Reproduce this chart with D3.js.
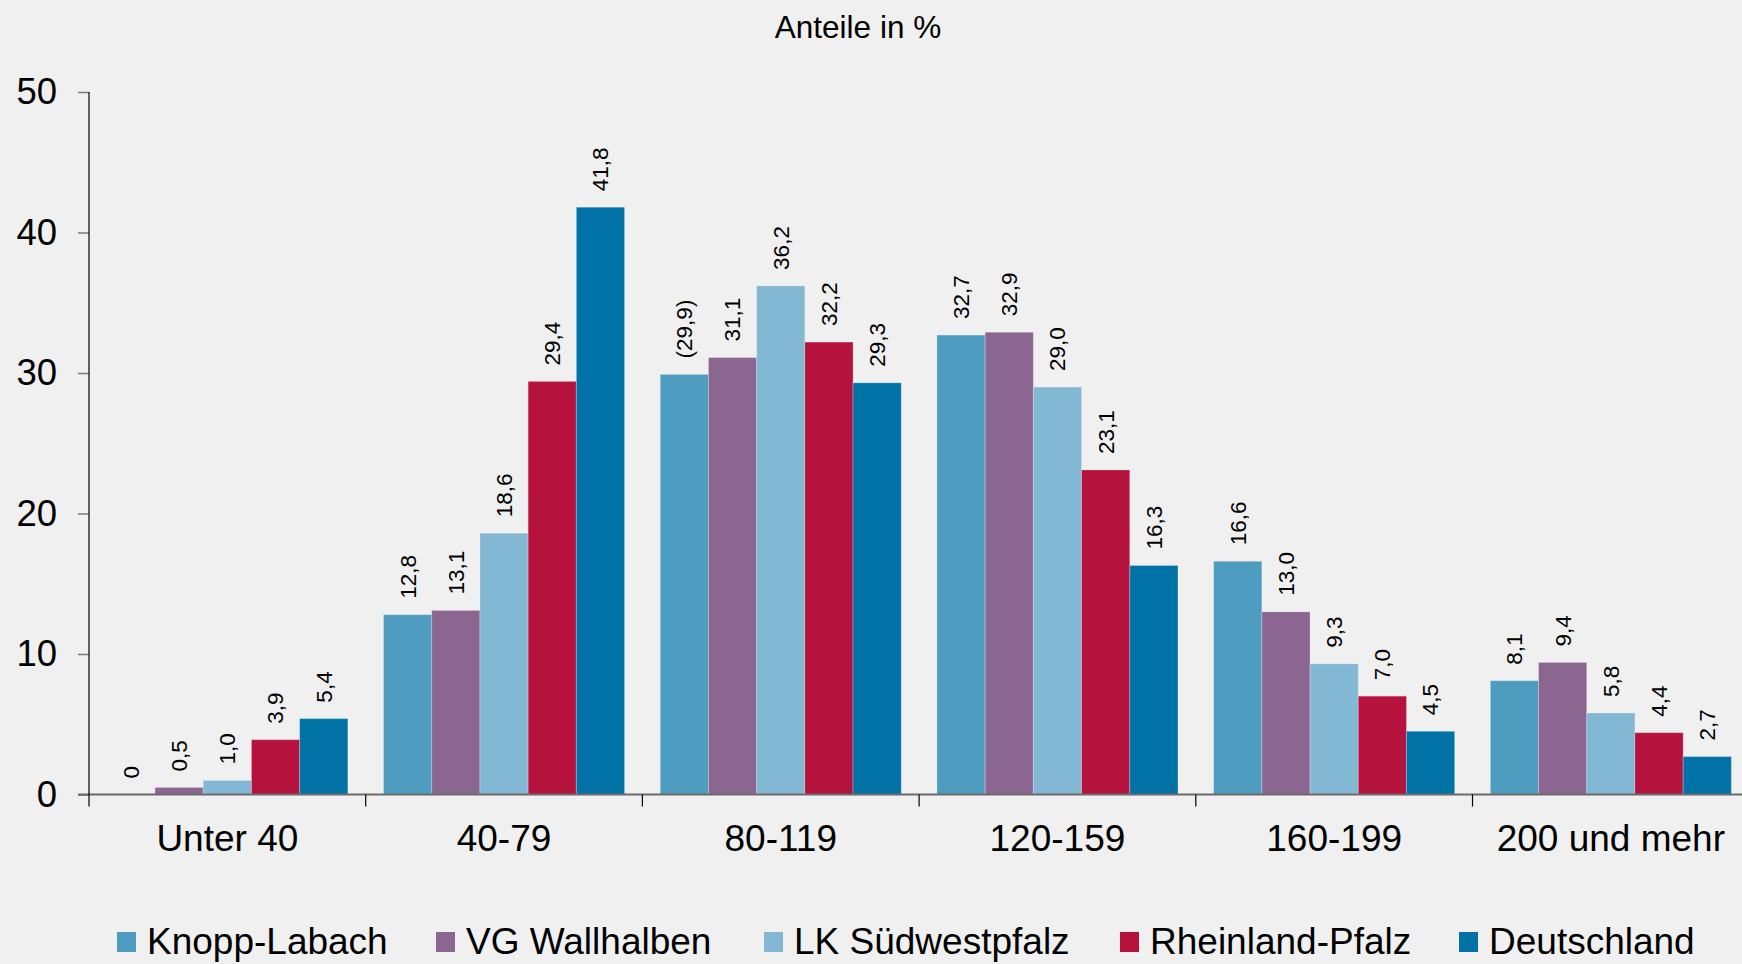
<!DOCTYPE html>
<meta charset="UTF-8">
<html lang="de">
<head><link rel="icon" href="data:,"></head>
<style>
body {
  margin: 0;
  background-color: #eff0ef;
}
svg text {
  font-family: "Liberation Sans", Arial, sans-serif;
  fill: #000;
}
</style>
<script src="https://cdn.jsdelivr.net/npm/d3@7"></script>
<body>
<svg id="chart"></svg>
</body>
<script>
const dims = { width: 1742, height: 964 };

const categories = ["Unter 40", "40-79", "80-119", "120-159", "160-199", "200 und mehr"];
const seriesNames = ["Knopp-Labach", "VG Wallhalben", "LK Südwestpfalz", "Rheinland-Pfalz", "Deutschland"];
const seriesColors = ["#4e9dc0", "#8b6690", "#82b8d4", "#b5133d", "#0072a5"];

const knoppLabach = [0, 12.8, 29.9, 32.7, 16.6, 8.1];
const vgWallhalben = [0.5, 13.1, 31.1, 32.9, 13.0, 9.4];
const lkSuedwestpfalz = [1.0, 18.6, 36.2, 29.0, 9.3, 5.8];
const rheinlandPfalz = [3.9, 29.4, 32.2, 23.1, 7.0, 4.4];
const deutschland = [5.4, 41.8, 29.3, 16.3, 4.5, 2.7];

// Knopp-Labach labels are written differently in the source ("0", "(29,9)")
const knoppLabels = ["0", "12,8", "(29,9)", "32,7", "16,6", "8,1"];

const yTicks = [0, 10, 20, 30, 40, 50];
const title = "Anteile in %";

const allSeries = [knoppLabach, vgWallhalben, lkSuedwestpfalz, rheinlandPfalz, deutschland];
const fmt = v => d3.format(".1f")(v).replace(".", ",");

// flat table for the bars
const rows = [];
categories.forEach((cat, ci) => {
    seriesNames.forEach((name, si) => {
        const v = allSeries[si][ci];
        rows.push({
            cat: cat,
            name: name,
            value: v,
            color: seriesColors[si],
            label: si === 0 ? knoppLabels[ci] : fmt(v)
        });
    });
});

const svg = d3.select("svg#chart")
    .attr("width", dims.width)
    .attr("height", dims.height);

const groupW = 276.7;
const x0 = d3.scaleBand()
    .domain(categories)
    .range([89, 89 + groupW * categories.length])
    .paddingInner(0)
    .paddingOuter(0);

const x1 = d3.scaleBand()
    .domain(seriesNames)
    .range([0, x0.bandwidth()])
    .paddingInner(0)
    .paddingOuter(0.37);

const y = d3.scaleLinear()
    .domain([0, 50])
    .range([794.5, 92]);

// title
svg.append("text")
    .attr("x", 858)
    .attr("y", 38)
    .attr("text-anchor", "middle")
    .style("font-size", "31.5px")
    .text(title);

// y axis ticks and labels
const yAxis = svg.append("g")
    .attr("transform", "translate(89,0)")
    .call(d3.axisLeft(y).tickValues(yTicks).tickSize(11).tickPadding(21).tickFormat(d => d));
yAxis.select(".domain").remove();
yAxis.selectAll(".tick line").attr("stroke", "#7a7a7a").attr("stroke-width", 1.5);
yAxis.selectAll(".tick text")
    .style("font-size", "36.5px")
    .style("font-family", "\"Liberation Sans\", Arial, sans-serif")
    .attr("fill", "#000");

// bars
svg.append("g")
    .selectAll("rect")
    .data(rows)
    .enter()
    .append("rect")
    .attr("x", d => x0(d.cat) + x1(d.name))
    .attr("y", d => y(d.value))
    .attr("width", x1.bandwidth())
    .attr("height", d => y(0) - y(d.value))
    .attr("fill", d => d.color)
    .attr("stroke", "rgba(255,255,255,0.25)")
    .attr("stroke-width", 1);

// value labels, rotated
svg.append("g")
    .selectAll("text")
    .data(rows)
    .enter()
    .append("text")
    .attr("transform", d => {
        const cx = x0(d.cat) + x1(d.name) + x1.bandwidth() / 2;
        return `translate(${cx},${y(d.value) - 16}) rotate(-90)`;
    })
    .attr("dy", "0.35em")
    .style("font-size", "22.5px")
    .text(d => d.label);

// x axis line
svg.append("line")
    .attr("x1", 78)
    .attr("x2", dims.width)
    .attr("y1", y(0))
    .attr("y2", y(0))
    .attr("stroke", "#6b6b6b")
    .attr("stroke-width", 2);

// y axis line, runs a little below zero
svg.append("line")
    .attr("x1", 89)
    .attr("x2", 89)
    .attr("y1", y(50))
    .attr("y2", y(0) + 12)
    .attr("stroke", "#000")
    .attr("stroke-width", 1.2);

// category boundary ticks
const bounds = categories.slice(1).map(c => x0(c));
svg.append("g")
    .selectAll("line")
    .data(bounds)
    .enter()
    .append("line")
    .attr("x1", d => d)
    .attr("x2", d => d)
    .attr("y1", y(0))
    .attr("y2", y(0) + 12)
    .attr("stroke", "#000")
    .attr("stroke-width", 1.2);

// category labels
svg.append("g")
    .selectAll("text")
    .data(categories)
    .enter()
    .append("text")
    .attr("x", d => x0(d) + x0.bandwidth() / 2)
    .attr("y", 851)
    .attr("text-anchor", "middle")
    .style("font-size", "37px")
    .text(d => d);

// legend, item positions as in the original layout
const legendX = [117, 436, 764, 1120, 1459];
const legend = svg.append("g").attr("id", "legend");
seriesNames.forEach((name, i) => {
    legend.append("rect")
        .attr("x", legendX[i])
        .attr("y", 932)
        .attr("width", 19)
        .attr("height", 20)
        .attr("fill", seriesColors[i]);
    legend.append("text")
        .attr("x", legendX[i] + 30)
        .attr("y", 954)
        .style("font-size", "37px")
        .text(name);
});
</script>
</html>
